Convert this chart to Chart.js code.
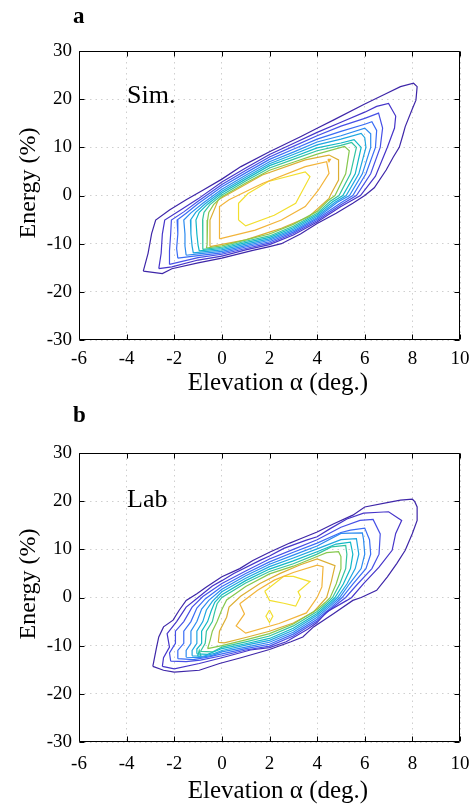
<!DOCTYPE html>
<html><head><meta charset="utf-8">
<script src="https://cdn.jsdelivr.net/npm/chart.js@4/dist/chart.umd.min.js"></script>
<style>
html,body{margin:0;padding:0;background:#fff;}
.panel{position:relative;width:470px;height:402px;}
canvas{display:block;}
</style></head><body>
<div class="panel"><canvas id="cA" width="470" height="402"></canvas></div>
<div class="panel"><canvas id="cB" width="470" height="402"></canvas></div>
<script>
// ---- tick labels / text ----
const xTicks = [-6,-4,-2,0,2,4,6,8,10];
const yTicks = [-30,-20,-10,0,10,20,30];
const xLabel = 'Elevation α (deg.)';
const yLabel = 'Energy (%)';
const panelLetters = ['a','b'];
const panelNames = ['Sim.','Lab'];

// contour colours, outermost -> innermost
const levelColors = ['#3e26a8','#4534c9','#4650e6','#3a6df5','#2c8bf0','#1ea6e0','#12b8c6','#33c4a0','#86c84e','#dcae32','#f2b43a','#f2df2e'];

// ---- Sim. contours [elevation, energy] ----
const simL1 = [[-3.3,-15.7],[-2.5,-16.2],[-2.1,-15.2],[-1,-14],[0,-13.0],[1.3,-11.4],[2,-10.6],[2.5,-10.0],[3.3,-8.0],[4,-5.8],[4.8,-3.7],[5.5,-1.6],[6.0,0],[6.4,1.6],[6.9,5.3],[7.2,8.0],[7.45,10],[7.6,12.5],[7.7,14.3],[8.0,18.0],[8.15,19.8],[8.2,22.6],[8.05,23.3],[7.5,22.6],[6.8,20.9],[6.0,19.0],[4.7,15.7],[4,13.95],[3.3,12.2],[2,9.1],[0.8,6.0],[0,3.4],[-0.8,1.1],[-1.5,-0.9],[-2.2,-3.0],[-2.78,-5.1],[-2.95,-7.9],[-3.1,-12.0],[-3.3,-15.7]];
const simL2 = [[-2.65,-15.2],[-2.1,-14.8],[-1,-13.4],[0,-12.6],[1,-11.3],[2,-10.2],[3,-8.2],[4,-5.5],[5,-2.3],[5.82,0],[6.45,4.0],[6.95,10],[7.25,14],[7.3,16.5],[7.0,19.1],[6.5,18.5],[6,17.3],[5,15.2],[4,13.1],[3,10.8],[2,8.5],[1,5.7],[0,2.8],[-1,-0.7],[-1.8,-3.2],[-2.4,-5.1],[-2.5,-8],[-2.55,-12],[-2.65,-15.2]];
const simL3 = [[-2.2,-14.3],[-1,-12.9],[0,-12.2],[1,-11.0],[2,-9.9],[3,-7.9],[4,-5.2],[5,-1.9],[5.65,0],[6.25,4.5],[6.65,10],[6.75,14],[6.58,17.1],[6,16.0],[5,14.4],[4,12.4],[3,10.2],[2,8.0],[1,5.2],[0,2.3],[-1,-1.2],[-1.6,-3.4],[-2.12,-5.1],[-2.15,-8],[-2.2,-11.5],[-2.2,-14.3]];
const simL4 = [[-1.85,-13.0],[-1,-12.5],[0,-11.9],[1,-10.7],[2,-9.6],[3,-7.6],[4,-4.9],[5,-1.5],[5.5,0],[6.05,4.5],[6.45,10],[6.5,13.5],[6.3,15.3],[6,14.8],[5,13.3],[4,11.7],[3,9.6],[2,7.5],[1,4.7],[0,1.8],[-1,-1.7],[-1.5,-3.7],[-1.88,-5.1],[-1.85,-8],[-1.9,-11],[-1.85,-13.0]];
const simL5 = [[-1.5,-12.4],[-1,-12.1],[0,-11.6],[1,-10.4],[2,-9.3],[3,-7.3],[4,-4.6],[4.85,-1.4],[5.36,0],[5.9,4.5],[6.25,10],[6.25,12.8],[6.0,14.0],[5,12.4],[4,11.1],[3,9.0],[2,7.0],[1,4.2],[0,1.3],[-0.8,-1.6],[-1.3,-3.6],[-1.6,-5.1],[-1.55,-8],[-1.55,-10.5],[-1.5,-12.4]];
const simL6 = [[-1.2,-11.9],[0,-11.3],[1,-10.1],[2,-9.0],[3,-7.0],[4,-4.3],[4.75,-1.4],[5.22,0],[5.75,4.5],[6.05,10],[6.0,12.0],[5.85,12.9],[5,11.7],[4,10.5],[3,8.5],[2,6.6],[1,3.8],[0,0.9],[-0.7,-1.7],[-1.1,-3.5],[-1.32,-5.1],[-1.3,-8],[-1.25,-10.5],[-1.2,-11.9]];
const simL7 = [[-0.95,-11.5],[0,-11.0],[1,-9.8],[2,-8.7],[3,-6.7],[4,-4.0],[4.65,-1.3],[5.08,0],[5.6,4.5],[5.85,10],[5.55,11.6],[5,10.9],[4,9.9],[3,8.0],[2,6.2],[1,3.4],[0,0.5],[-0.6,-1.8],[-0.95,-3.5],[-1.09,-5.1],[-1.05,-8],[-1.0,-10.3],[-0.95,-11.5]];
const simL8 = [[-0.8,-11.2],[0,-10.75],[1,-9.5],[2,-8.4],[3,-6.4],[4,-3.7],[4.55,-1.2],[4.92,0],[5.4,4.5],[5.65,10],[5.45,11.0],[5,10.4],[4,9.3],[3,7.5],[2,5.7],[1,3.0],[0,0.1],[-0.5,-1.9],[-0.75,-3.5],[-0.81,-5.1],[-0.8,-8],[-0.8,-10.3],[-0.8,-11.2]];
const simL9 = [[-0.65,-10.9],[0,-10.45],[1,-9.2],[2,-8.0],[3,-6.0],[4,-3.3],[4.45,-1.1],[4.75,0],[5.2,4.5],[5.35,9.3],[5.15,10.2],[4,8.6],[3,6.9],[2,5.25],[1,2.6],[0,-0.25],[-0.35,-1.9],[-0.55,-3.5],[-0.6,-5.1],[-0.62,-8],[-0.62,-10.2],[-0.65,-10.9]];
const simL10 = [[-0.5,-10.6],[1.0,-9.2],[2,-7.6],[2.5,-6.8],[3.65,-4.4],[4.5,-0.6],[4.55,0],[4.9,3.2],[4.9,7.4],[4.5,8.4],[3.5,7.4],[1.7,4.25],[-0.15,-0.9],[-0.5,-5.1],[-0.5,-10.6]];
const simL11 = [[-0.1,-9.0],[1.4,-7.2],[2.5,-5.1],[3.5,-2.3],[4.05,1.1],[4.5,4.6],[4.4,7.0],[3.5,6.0],[1.7,2.5],[0.3,-0.9],[-0.1,-2.3],[-0.1,-9.0]];
const simL11b = [[4.45,7.5],[4.56,7.5],[4.5,7.0],[4.45,7.5]];
const simL12 = [[0.7,-5.1],[1.0,-6.3],[2.2,-4.1],[3.1,-1.6],[3.7,3.9],[3.5,4.9],[1.95,2.9],[1.1,0.4],[0.7,-1.6],[0.7,-5.1]];

// ---- Lab contours [elevation, energy] ----
const labL1 = [[-2.9,-14.3],[-2.45,-15.1],[-2.0,-15.5],[-0.95,-15.1],[-0.1,-13.7],[0.8,-12.5],[2.0,-10.8],[2.9,-9.2],[3.4,-8.2],[3.85,-6.1],[4.7,-3.3],[5.5,-0.6],[5.85,0],[6.5,1.5],[6.95,4.3],[7.35,7.1],[7.7,9.8],[8.0,13.3],[8.2,16.0],[8.2,18.8],[8.1,19.9],[8.0,20.4],[7.5,20.2],[7.05,19.8],[6.0,18.8],[5.5,17.1],[4.7,15.3],[4.0,13.6],[3.3,12.2],[2.85,11.3],[2.0,9.4],[1.3,7.7],[0.75,6.0],[0,4.3],[-0.65,2.2],[-1.05,0.8],[-1.5,-0.6],[-1.8,-2.7],[-2.05,-4.7],[-2.45,-6.1],[-2.65,-8.2],[-2.75,-10.5],[-2.9,-14.3]];
const labL2 = [[-2.5,-14.3],[-2.0,-14.8],[-0.95,-13.7],[0,-12.5],[1.2,-10.9],[2,-10.4],[2.7,-9.2],[3.6,-6.6],[4,-5.2],[4.4,-3.0],[5.25,-0.6],[5.45,0],[5.95,2.9],[6.6,6.3],[7.15,9.8],[7.3,13.3],[7.55,16.0],[7.0,17.8],[6.6,17.7],[5.95,17.5],[5.25,16.3],[4.55,14.3],[4,12.6],[3.55,11.9],[2.6,10.2],[2,8.6],[1.6,7.7],[0.5,5.0],[0,3.5],[-0.4,2.4],[-1.05,-0.2],[-1.5,-2.0],[-1.9,-5.0],[-2.3,-7.5],[-2.2,-10.3],[-2.45,-12.5],[-2.5,-14.3]];
const labL3 = [[-2.15,-13.2],[-1.5,-13.3],[-0.9,-13.0],[0,-12.1],[1,-10.9],[2,-10.1],[3,-8.0],[4,-4.9],[4.6,-2.3],[5.2,0],[5.7,2.8],[6.3,6],[6.6,9],[6.65,13.2],[6.35,16.2],[5.8,16.0],[5,14.6],[4,12.0],[3,10.0],[2,8.0],[1,5.5],[0,2.9],[-0.8,0.2],[-1.25,-2.0],[-1.6,-5.0],[-1.95,-7.0],[-1.95,-9.5],[-2.2,-11.5],[-2.15,-13.2]];
const labL4 = [[-1.85,-12.7],[-1.2,-12.9],[-0.6,-12.4],[0,-11.7],[1,-10.6],[2,-9.7],[3,-7.6],[4,-4.5],[4.6,-2.0],[5.05,0],[5.5,2.8],[6.05,6],[6.25,9],[6.2,12.0],[6.0,14.4],[5.4,14.0],[5,13.5],[4,11.3],[3,9.4],[2,7.4],[1,5.0],[0,2.3],[-0.7,-0.3],[-1.05,-2.2],[-1.3,-5.0],[-1.6,-7.0],[-1.6,-9.5],[-1.85,-11.0],[-1.85,-12.7]];
const labL5 = [[-1.5,-12.4],[-0.95,-12.5],[-0.4,-12.0],[0,-11.3],[1,-10.3],[2,-9.3],[3,-7.2],[4,-4.1],[4.55,-1.8],[4.95,0],[5.35,2.8],[5.85,6],[6.0,9],[5.95,12.0],[5.9,13.4],[5.0,13.3],[4,10.7],[3,8.8],[2,6.9],[1,4.5],[0,1.7],[-0.55,-0.6],[-0.85,-2.4],[-1.05,-5.0],[-1.3,-7.0],[-1.3,-9.5],[-1.5,-11.0],[-1.5,-12.4]];
const labL6 = [[-1.25,-12.1],[-0.8,-12.2],[-0.3,-11.6],[0,-11.0],[1,-9.9],[2,-8.9],[3,-6.8],[4,-3.7],[4.5,-1.6],[4.85,0],[5.25,2.8],[5.6,6],[5.75,9],[5.65,12.2],[5.0,12.0],[4,10.1],[3,8.2],[2,6.4],[1,4.0],[0,1.2],[-0.4,-0.8],[-0.65,-2.6],[-0.8,-5.0],[-1.05,-7.0],[-1.05,-9.5],[-1.25,-11.0],[-1.25,-12.1]];
const labL7 = [[-1.05,-11.7],[-0.6,-11.8],[0,-10.6],[1,-9.6],[2,-8.5],[3,-6.4],[4,-3.3],[4.45,-1.4],[4.75,0],[5.1,2.8],[5.4,6],[5.5,9],[5.4,11.5],[4.8,11.1],[4,9.5],[3,7.6],[2,5.9],[1,3.5],[0,0.6],[-0.3,-1.0],[-0.45,-2.8],[-0.6,-5.0],[-0.85,-7.0],[-0.85,-9.5],[-1.05,-10.7],[-1.05,-11.7]];
const labL8 = [[-0.9,-11.2],[-0.4,-11.3],[0,-10.3],[1,-9.2],[2,-8.0],[3,-5.9],[4,-2.9],[4.4,-1.2],[4.65,0],[4.95,2.8],[5.2,6],[5.25,9],[5.2,10.8],[4.6,10.5],[4,9.0],[3,7.0],[2,5.4],[1,3.0],[0,0.0],[-0.2,-1.3],[-0.3,-3.0],[-0.4,-5.0],[-0.65,-7.0],[-0.7,-9.5],[-0.9,-11.2]];
const labL8b = [[-1.02,-12.2],[-0.95,-11.0],[-0.88,-12.2],[-1.02,-12.2]];
const labL9 = [[-0.6,-10.6],[0,-10.0],[1,-8.8],[2,-7.5],[3,-5.5],[4,-2.5],[4.35,-1.0],[4.55,0],[4.8,2.8],[5.0,6],[5.0,8.5],[4.9,9.5],[4.4,9.3],[4,8.5],[3,6.5],[2,4.9],[1,2.3],[0.2,-0.5],[0,-2.5],[-0.2,-5.0],[-0.4,-7.0],[-0.5,-9.0],[-0.6,-10.6]];
const labL10 = [[-0.15,-9.3],[0.1,-9.4],[1.0,-8.3],[2,-7.0],[3,-5.3],[3.85,-3.0],[4.4,0],[4.6,3.4],[4.75,6.6],[4.0,8.0],[3.3,6.8],[2.45,5.0],[1.6,2.9],[0.8,0.3],[0.3,-2.0],[0.2,-4.1],[-0.1,-7.0],[-0.15,-9.3]];
const labL11 = [[0.75,-1.3],[1.5,1.5],[2.2,3.6],[3.0,5.2],[4.0,6.7],[4.25,6.4],[4.2,2.2],[4.0,0],[3.55,-3.2],[2.4,-5.4],[1.0,-7.4],[0.6,-5.9],[0.95,-3.4],[0.75,-1.3]];
const labL12 = [[1.8,1.3],[2.0,-0.6],[2.6,-1.2],[3.1,-1.8],[3.3,0.2],[3.2,1.2],[3.7,3.3],[3.0,4.4],[2.6,4.4],[1.8,1.3]];
const labL12b = [[2.0,-2.6],[2.14,-3.9],[2.0,-5.2],[1.85,-3.9],[2.0,-2.6]];

const simContours = [[simL1,0],[simL2,1],[simL3,2],[simL4,3],[simL5,4],[simL6,5],[simL7,6],[simL8,7],[simL9,8],[simL10,9],[simL11,10],[simL11b,10],[simL12,11]];
const labContours = [[labL1,0],[labL2,1],[labL3,2],[labL4,3],[labL5,4],[labL6,5],[labL7,6],[labL8,7],[labL8b,7],[labL9,8],[labL10,9],[labL11,10],[labL12,11],[labL12b,11]];

const SERIF = '"Liberation Serif","Times New Roman",serif';

const deco = {
  id: 'deco',
  afterDraw(chart, args, o) {
    const {ctx, chartArea: a, scales: {x, y}} = chart;
    ctx.save();
    ctx.strokeStyle = '#000';
    ctx.lineWidth = 1;
    const L = a.left + 0.5, R = a.right - 0.5, T = a.top + 0.5, B = a.bottom - 0.5;
    ctx.beginPath();
    ctx.moveTo(L, T); ctx.lineTo(R, T); ctx.lineTo(R, B); ctx.lineTo(L, B); ctx.closePath();
    const tl = 5;
    xTicks.forEach(v => {
      const px = Math.round(x.getPixelForValue(v)) + 0.5;
      ctx.moveTo(px, B); ctx.lineTo(px, B - tl);
      ctx.moveTo(px, T); ctx.lineTo(px, T + tl);
    });
    yTicks.forEach(v => {
      const py = Math.round(y.getPixelForValue(v)) + 0.5;
      ctx.moveTo(L, py); ctx.lineTo(L + tl, py);
      ctx.moveTo(R, py); ctx.lineTo(R - tl, py);
    });
    ctx.stroke();
    ctx.fillStyle = '#000';
    ctx.font = 'bold 23px ' + SERIF;
    ctx.textAlign = 'left'; ctx.textBaseline = 'alphabetic';
    ctx.fillText(o.letter, 73, o.letterY);
    ctx.font = '26px ' + SERIF;
    ctx.fillText(o.name, 127, o.nameY);
    ctx.font = '25px ' + SERIF;
    ctx.textAlign = 'center';
    ctx.fillText(xLabel, 278, o.xTitleY);
    ctx.font = '24px ' + SERIF;
    ctx.save();
    ctx.translate(34.5, o.yTitleC);
    ctx.rotate(-Math.PI / 2);
    ctx.fillText(yLabel, 0, 0);
    ctx.restore();
    ctx.restore();
  }
};

function makeChart(id, contours, opt) {
  const datasets = contours.map(([pts, lev]) => ({
    data: pts.map(p => ({x: p[0], y: p[1]})),
    borderColor: levelColors[lev],
    backgroundColor: levelColors[lev],
    borderWidth: 1.2,
    pointRadius: 0,
    showLine: true,
    fill: false,
    tension: 0
  }));
  return new Chart(document.getElementById(id), {
    type: 'scatter',
    data: {datasets},
    plugins: [deco],
    options: {
      responsive: false,
      animation: false,
      events: [],
      devicePixelRatio: 1,
      layout: {padding: {top: 51, right: 10, bottom: 0, left: 0}},
      plugins: {legend: {display: false}, tooltip: {enabled: false}, deco: opt},
      scales: {
        x: {
          type: 'linear', min: -6, max: 10,
          afterBuildTicks: s => { s.ticks = xTicks.map(v => ({value: v})); },
          afterFit: s => { s.height = 62; s.paddingLeft = 0; s.paddingRight = 0; },
          ticks: {color: '#000', font: {family: SERIF, size: 19}, padding: opt.xPad, maxRotation: 0, autoSkip: false, callback: v => String(v)},
          grid: {color: '#cfcfcf', lineWidth: 1, drawTicks: false},
          border: {display: false, dash: [1.5, 4]}
        },
        y: {
          type: 'linear', min: -30, max: 30,
          afterBuildTicks: s => { s.ticks = yTicks.map(v => ({value: v})); },
          afterFit: s => { s.width = 79; s.paddingTop = 0; s.paddingBottom = 0; },
          ticks: {color: '#000', font: {family: SERIF, size: 19}, padding: 7, autoSkip: false, callback: v => String(v)},
          grid: {color: '#cfcfcf', lineWidth: 1, drawTicks: false},
          border: {display: false, dash: [1.5, 4]}
        }
      }
    }
  });
}

makeChart('cA', simContours, {letter: panelLetters[0], letterY: 23, name: panelNames[0], nameY: 103, xTitleY: 390, yTitleC: 183, xPad: 8});
makeChart('cB', labContours, {letter: panelLetters[1], letterY: 20, name: panelNames[1], nameY: 105, xTitleY: 396, yTitleC: 182, xPad: 11});
</script>
</body></html>
